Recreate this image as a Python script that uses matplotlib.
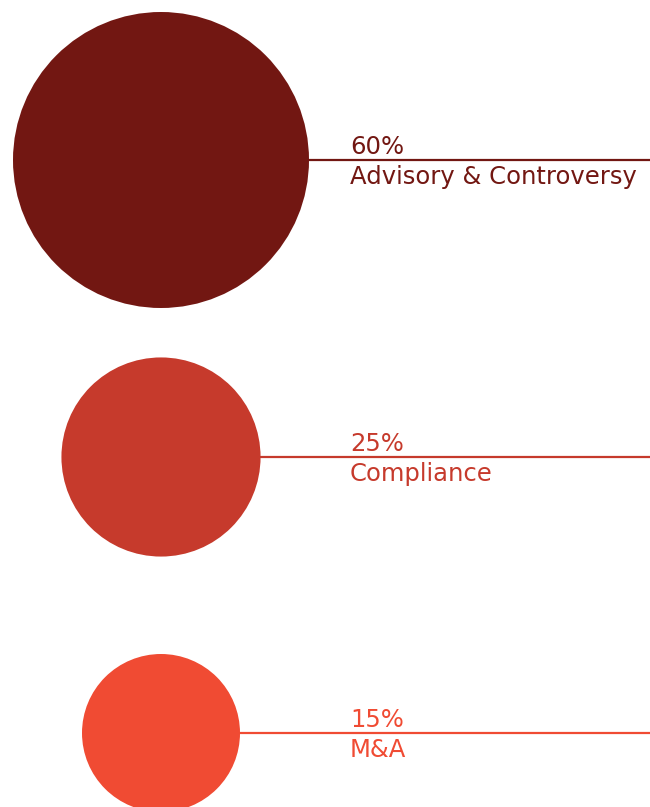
import numpy as np
import matplotlib
matplotlib.use('Agg')
import matplotlib.pyplot as plt
from matplotlib.patches import Circle

## data
shares = [60, 25, 15]
pct_labels = ['60%', '25%', '15%']
categories = ['Advisory & Controversy', 'Compliance', 'M&A']
colors = ['#721712', '#C63A2C', '#F04B33']

# layout (pixel coords, y downward)
W, H = 650, 807
cx = 161
cy = [160, 457, 733]
text_x = 350

# radius scale: power scale fitted to the picture
r_max, r_min = 148, 79
v = np.array(shares, dtype=float)
k = np.log(r_max / r_min) / np.log(v.max() / v.min())
radii = r_max * (v / v.max()) ** k

fig = plt.figure(figsize=(W / 100, H / 100), dpi=100)
ax = fig.add_axes([0, 0, 1, 1])
ax.set_xlim(0, W)
ax.set_ylim(H, 0)
ax.set_aspect('equal')
ax.axis('off')

for i in range(len(shares)):
    r = radii[i]
    ax.add_patch(Circle((cx, cy[i]), r, color=colors[i], lw=0, zorder=2))
    ax.plot([cx + r - 2, W], [cy[i], cy[i]], color=colors[i], lw=1.6,
            solid_capstyle='butt', zorder=1)
    ax.text(text_x, cy[i] - 6, pct_labels[i], color=colors[i], fontsize=17.5,
            family='DejaVu Sans', va='baseline', ha='left')
    ax.text(text_x, cy[i] + 24, categories[i], color=colors[i], fontsize=17.5,
            family='DejaVu Sans', va='baseline', ha='left')

plt.savefig('out.png', dpi=100)
